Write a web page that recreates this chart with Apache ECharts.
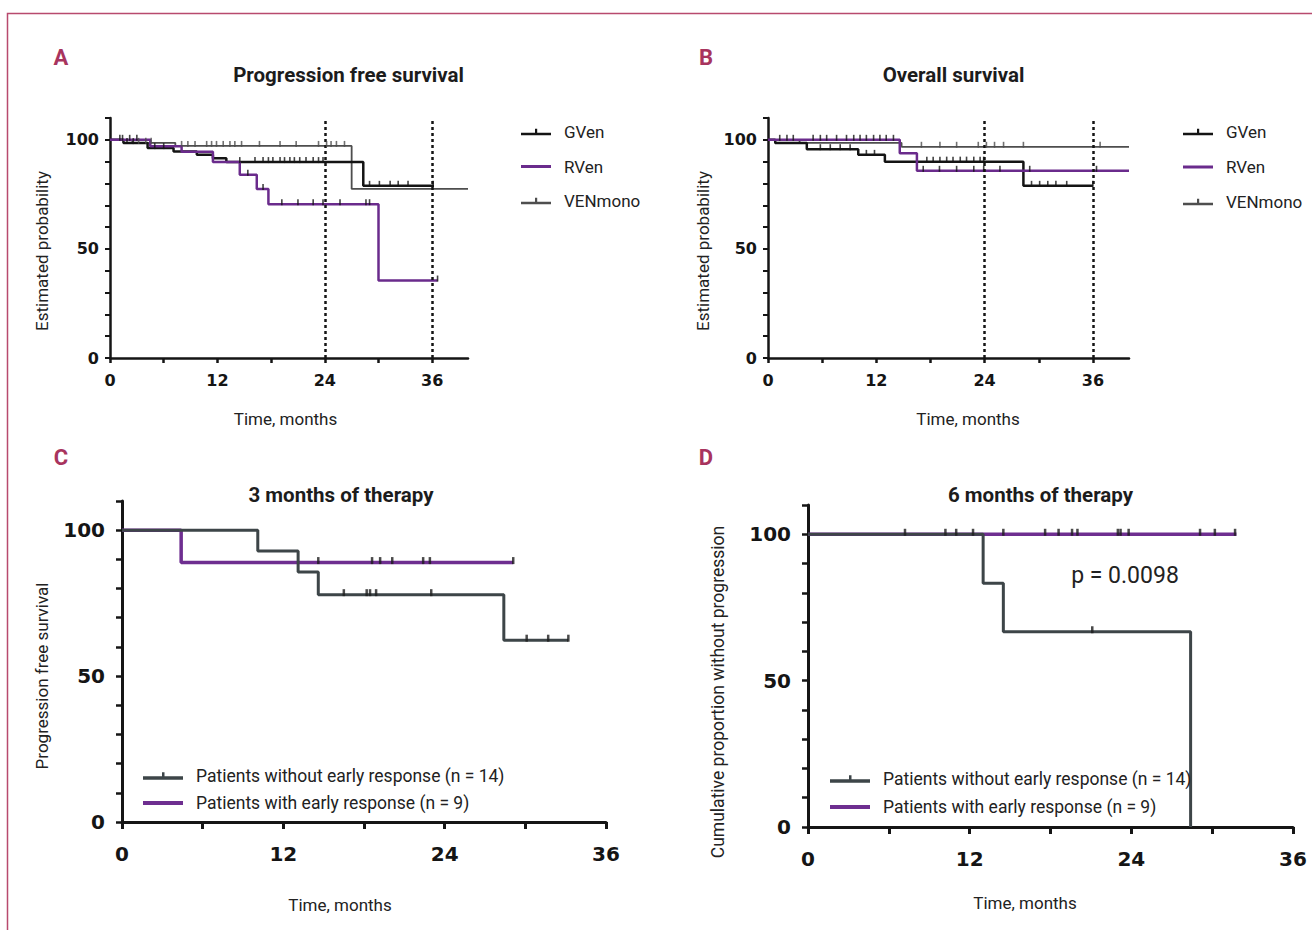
<!DOCTYPE html>
<html>
<head>
<meta charset="utf-8">
<script src="https://cdn.jsdelivr.net/npm/echarts@6/dist/echarts.min.js"></script>
<style>
  html, body { margin: 0; padding: 0; background: #ffffff; }
  #chart { width: 1312px; height: 930px; }
</style>
</head>
<body>
<div id="chart"></div>
<script>
// ---- Tick values shared by all four panels ----
const xTicks = [0, 6, 12, 18, 24, 30, 36];
const xTickLabels = [0, 12, 24, 36];
const yTicks = [0, 10, 20, 30, 40, 50, 60, 70, 80, 90, 100, 110];
const yTickLabels = [0, 50, 100];
const landmarkMonths = [24, 36];

// ---- A: progression free survival (event times in months, survival in %) ----
const pfsGVenTime = [0, 1.5, 4.2, 7.1, 9.7, 11.5, 13.0, 28.3];
const pfsGVenSurv = [100, 98.5, 96.2, 94.6, 93.1, 91.6, 89.8, 78.9];
const pfsGVenEnd = 36.2;
const pfsGVenCens = [1.1, 1.9, 2.6, 5.0, 6.0, 14.5, 16.2, 17.1, 17.7, 18.2, 19.0, 19.5, 20.1, 20.6, 21.2, 21.9, 22.7, 23.3, 23.8, 29.0, 30.1, 31.3, 32.2, 33.3, 36.1];

const pfsRVenTime = [0, 4.5, 8.0, 11.5, 14.5, 16.4, 17.7, 30.0];
const pfsRVenSurv = [100, 97.0, 94.5, 89.8, 84.0, 77.5, 70.5, 35.5];
const pfsRVenEnd = 36.6;
const pfsRVenCens = [1.4, 2.2, 3.0, 15.4, 17.1, 19.2, 21.0, 22.7, 23.8, 25.7, 28.6, 29.0, 36.6];

const pfsMonoTime = [0, 2.5, 7.3, 27.0];
const pfsMonoSurv = [100, 98.6, 97.2, 77.5];
const pfsMonoEnd = 40;
const pfsMonoCens = [3.2, 4.0, 4.6, 8.0, 8.7, 9.5, 10.8, 11.35, 11.9, 12.65, 13.4, 13.95, 14.7, 16.7, 19.0, 20.8, 23.3, 24.2, 24.7, 25.3, 26.2];

// ---- B: overall survival ----
const osGVenTime = [0, 0.8, 4.3, 10.0, 12.95, 28.3];
const osGVenSurv = [100, 98.5, 95.7, 93.1, 90.0, 78.9];
const osGVenEnd = 36.0;
const osGVenCens = [5.8, 6.9, 8.0, 9.1, 10.9, 11.8, 17.6, 18.3, 19.05, 19.8, 20.5, 21.3, 22.0, 22.8, 23.5, 23.9, 29.2, 30.1, 31.0, 31.9, 33.1, 36.0];

const osRVenTime = [0, 14.6, 16.5];
const osRVenSurv = [100, 93.9, 85.8];
const osRVenEnd = 40;
const osRVenCens = [1.3, 2.1, 2.8, 5.0, 5.8, 6.5, 7.6, 8.7, 9.5, 10.2, 10.9, 11.7, 12.4, 13.1, 13.9, 17.2, 19.0, 20.9, 22.8, 23.9, 25.7, 29.0, 36.4];

const osMonoTime = [0, 3.5, 14.8];
const osMonoSurv = [100, 98.6, 96.8];
const osMonoEnd = 40;
const osMonoCens = [17.0, 19.05, 20.9, 23.3, 24.2, 25.1, 26.1, 28.3, 36.8];

// ---- C: 3 months of therapy ----
const m3NoTime = [0, 10.1, 13.1, 14.6, 28.4];
const m3NoSurv = [100, 92.9, 85.7, 77.9, 62.3];
const m3NoEnd = 33.2;
const m3NoCens = [16.5, 18.2, 18.45, 18.9, 23.0, 30.1, 31.7, 33.2];

const m3YesTime = [0, 4.4];
const m3YesSurv = [100, 88.9];
const m3YesEnd = 29.1;
const m3YesCens = [14.6, 18.6, 19.2, 20.1, 22.4, 22.9, 29.1];

// ---- D: 6 months of therapy ----
const m6NoTime = [0, 13.0, 14.5, 28.4];
const m6NoSurv = [100, 83.3, 66.7, 0];
const m6NoEnd = 28.4;
const m6NoCens = [7.2, 10.2, 11.0, 12.25, 21.1];

const m6YesTime = [0];
const m6YesSurv = [100];
const m6YesEnd = 31.8;
const m6YesCens = [14.5, 17.6, 18.6, 19.6, 20.0, 23.0, 23.2, 23.8, 29.1, 30.2, 31.7];

const pValueText = 'p = 0.0098';

// ---- styling ----
const INK = '#151515';
const C_GVEN = '#141414';
const C_RVEN = '#6a2b8c';
const C_MONO = '#4e4e4e';
const C_NO = '#3d4548';
const C_YES = '#6e2e90';
const ACCENT = '#a8345e';
const FONT = 'Roboto, "Liberation Sans", sans-serif';
const NUM_FONT = '"DejaVu Sans", "Liberation Sans", sans-serif';

// Kaplan–Meier step points: value holds until the next event time
function stepData(times, surv, end) {
  const pts = times.map((t, i) => [t, surv[i]]);
  pts.push([end, surv[surv.length - 1]]);
  return pts;
}
function survAt(times, surv, t) {
  let s = surv[0];
  for (let i = 0; i < times.length; i++) if (times[i] <= t) s = surv[i];
  return s;
}
function censorData(times, surv, cens) {
  return cens.map(t => [t, survAt(times, surv, t)]);
}

function kmLine(name, grid, times, surv, end, color, width, z, extra) {
  return Object.assign({
    name: name, type: 'line', xAxisIndex: grid, yAxisIndex: grid,
    step: 'end', symbol: 'none', showSymbol: false, silent: true,
    color: color, lineStyle: { color: color, width: width },
    data: stepData(times, surv, end), z: z
  }, extra || {});
}
function censorMarks(grid, times, surv, cens, color, size, z) {
  return {
    name: 'censored', type: 'scatter', xAxisIndex: grid, yAxisIndex: grid,
    symbol: 'rect', symbolSize: size, symbolOffset: [0, -2], silent: true,
    itemStyle: { color: color }, data: censorData(times, surv, cens), z: z
  };
}

function xAxisFor(grid, max, big) {
  return {
    type: 'value', gridIndex: grid, min: 0, max: max, interval: 6,
    axisLine: { show: true, lineStyle: { color: INK, width: big ? 3 : 2.5 } },
    axisTick: { show: true, length: big ? 7 : 5, customValues: xTicks, lineStyle: { color: INK, width: big ? 3 : 2.5 } },
    axisLabel: { customValues: xTickLabels, margin: big ? 22 : 14, color: INK,
      fontFamily: NUM_FONT, fontWeight: 'bold', fontSize: big ? 20 : 16 },
    splitLine: { show: false }
  };
}
function yAxisFor(grid, big) {
  return {
    type: 'value', gridIndex: grid, min: 0, max: 110, interval: 10,
    axisLine: { show: true, lineStyle: { color: INK, width: big ? 3 : 2.5 } },
    axisTick: { show: true, length: big ? 6 : 5, customValues: yTicks, lineStyle: { color: INK, width: big ? 2.5 : 2 } },
    axisLabel: { customValues: yTickLabels, margin: big ? 17 : 11, color: INK,
      fontFamily: NUM_FONT, fontWeight: 'bold', fontSize: big ? 20 : 16 },
    splitLine: { show: false }
  };
}

const landmarkLines = {
  silent: true, symbol: 'none', label: { show: false },
  lineStyle: { color: INK, type: [3, 3], width: 2.5 },
  data: landmarkMonths.map(m => ({ xAxis: m }))
};

const tickIconSmall = 'path://M0,4h30v2.5h-30z M14,0h2.2v4h-2.2z';
const plainIconSmall = 'path://M0,0h30v3h-30z';
const tickIconBig = 'path://M0,4h40v3.5h-40z M19,0h2.5v4h-2.5z';
const plainIconBig = 'path://M0,0h40v4h-40z';

function legendFor(left, top, gap, items, width) {
  return {
    left: left, top: top, orient: 'vertical', itemGap: gap, padding: 0,
    itemWidth: width, itemHeight: 8, selectedMode: false,
    itemStyle: { borderWidth: 0 },
    textStyle: { fontFamily: FONT, fontSize: width > 35 ? 17.5 : 17, color: '#222', lineHeight: 20, padding: [0, 0, 0, 8] },
    data: items
  };
}

function label(text, x, y, size, weight, color, rotate) {
  return {
    type: 'text', x: x, y: y, rotation: rotate ? Math.PI / 2 : 0, silent: true,
    style: { text: text, fill: color, font: weight + ' ' + size + 'px ' + FONT,
      textAlign: 'center', textVerticalAlign: 'middle' }
  };
}

const chart = echarts.init(document.getElementById('chart'), null, { renderer: 'svg' });

chart.setOption({
  animation: false,
  backgroundColor: '#ffffff',
  grid: [
    { left: 110, top: 118, width: 358, height: 240 },
    { left: 768, top: 118, width: 361, height: 240 },
    { left: 122, top: 501, width: 484, height: 321 },
    { left: 808, top: 505, width: 485, height: 322 }
  ],
  xAxis: [xAxisFor(0, 40, false), xAxisFor(1, 40, false), xAxisFor(2, 36, true), xAxisFor(3, 36, true)],
  yAxis: [yAxisFor(0, false), yAxisFor(1, false), yAxisFor(2, true), yAxisFor(3, true)],
  legend: [
    legendFor(521, 122, 14.5, [
      { name: 'GVen', icon: tickIconSmall },
      { name: 'RVen', icon: plainIconSmall },
      { name: 'VENmono', icon: tickIconSmall }
    ], 30),
    legendFor(1183, 122, 15, [
      { name: 'GVen', icon: tickIconSmall },
      { name: 'RVen', icon: plainIconSmall },
      { name: 'VENmono', icon: tickIconSmall }
    ], 30),
    legendFor(143, 766, 7, [
      { name: 'Patients without early response (n = 14)', icon: tickIconBig },
      { name: 'Patients with early response (n = 9)', icon: plainIconBig }
    ], 40),
    legendFor(830, 769, 8, [
      { name: 'Patients without early response (n = 14)', icon: tickIconBig },
      { name: 'Patients with early response (n = 9)', icon: plainIconBig }
    ], 40)
  ],
  series: [
    // A
    kmLine('VENmono', 0, pfsMonoTime, pfsMonoSurv, pfsMonoEnd, C_MONO, 1.8, 2),
    kmLine('GVen', 0, pfsGVenTime, pfsGVenSurv, pfsGVenEnd, C_GVEN, 2.5, 3, { markLine: landmarkLines }),
    kmLine('RVen', 0, pfsRVenTime, pfsRVenSurv, pfsRVenEnd, C_RVEN, 2.5, 4),
    censorMarks(0, pfsMonoTime, pfsMonoSurv, pfsMonoCens, C_MONO, [1.6, 6], 5),
    censorMarks(0, pfsGVenTime, pfsGVenSurv, pfsGVenCens, C_GVEN, [1.6, 6], 5),
    censorMarks(0, pfsRVenTime, pfsRVenSurv, pfsRVenCens, C_GVEN, [1.6, 6], 5),
    // B
    kmLine('VENmono', 1, osMonoTime, osMonoSurv, osMonoEnd, C_MONO, 1.8, 2),
    kmLine('GVen', 1, osGVenTime, osGVenSurv, osGVenEnd, C_GVEN, 2.5, 3, { markLine: landmarkLines }),
    kmLine('RVen', 1, osRVenTime, osRVenSurv, osRVenEnd, C_RVEN, 2.5, 4),
    censorMarks(1, osMonoTime, osMonoSurv, osMonoCens, C_MONO, [1.6, 6], 5),
    censorMarks(1, osGVenTime, osGVenSurv, osGVenCens, C_GVEN, [1.6, 6], 5),
    censorMarks(1, osRVenTime, osRVenSurv, osRVenCens, C_GVEN, [1.6, 6], 5),
    // C
    kmLine('Patients with early response (n = 9)', 2, m3YesTime, m3YesSurv, m3YesEnd, C_YES, 3.5, 2),
    kmLine('Patients without early response (n = 14)', 2, m3NoTime, m3NoSurv, m3NoEnd, C_NO, 3, 3),
    censorMarks(2, m3YesTime, m3YesSurv, m3YesCens, '#1d1d1d', [2.5, 7], 5),
    censorMarks(2, m3NoTime, m3NoSurv, m3NoCens, '#1d1d1d', [2.5, 7], 5),
    // D
    kmLine('Patients with early response (n = 9)', 3, m6YesTime, m6YesSurv, m6YesEnd, C_YES, 3.5, 2),
    kmLine('Patients without early response (n = 14)', 3, m6NoTime, m6NoSurv, m6NoEnd, C_NO, 3, 3),
    censorMarks(3, m6YesTime, m6YesSurv, m6YesCens, '#1d1d1d', [2.5, 7], 5),
    censorMarks(3, m6NoTime, m6NoSurv, m6NoCens, '#1d1d1d', [2.5, 7], 5)
  ],
  graphic: [
    { type: 'rect', silent: true, shape: { x: 7.5, y: 13.5, width: 1330, height: 950 },
      style: { fill: 'none', stroke: '#b84a6e', lineWidth: 1.5 } },
    label('A', 61, 57, 22, 'bold', ACCENT),
    label('B', 706, 57, 22, 'bold', ACCENT),
    label('C', 61, 457, 22, 'bold', ACCENT),
    label('D', 706, 457, 22, 'bold', ACCENT),
    label('Progression free survival', 348.5, 75, 20.5, 'bold', '#1c1c1c'),
    label('Overall survival', 953.5, 75, 20.5, 'bold', '#1c1c1c'),
    label('3 months of therapy', 341, 495, 20.5, 'bold', '#1c1c1c'),
    label('6 months of therapy', 1040.5, 495, 20.5, 'bold', '#1c1c1c'),
    label('Time, months', 285.5, 419, 17, 'normal', '#222'),
    label('Time, months', 968, 419, 17, 'normal', '#222'),
    label('Time, months', 340, 905, 17, 'normal', '#222'),
    label('Time, months', 1025, 903, 17, 'normal', '#222'),
    label('Estimated probability', 42, 251, 17, 'normal', '#222', true),
    label('Estimated probability', 703, 251, 17, 'normal', '#222', true),
    label('Progression free survival', 42, 676, 17, 'normal', '#222', true),
    label('Cumulative proportion without progression', 718, 692, 17.5, 'normal', '#222', true),
    label(pValueText, 1125, 575, 23, 'normal', '#222')
  ]
});
</script>
</body>
</html>
